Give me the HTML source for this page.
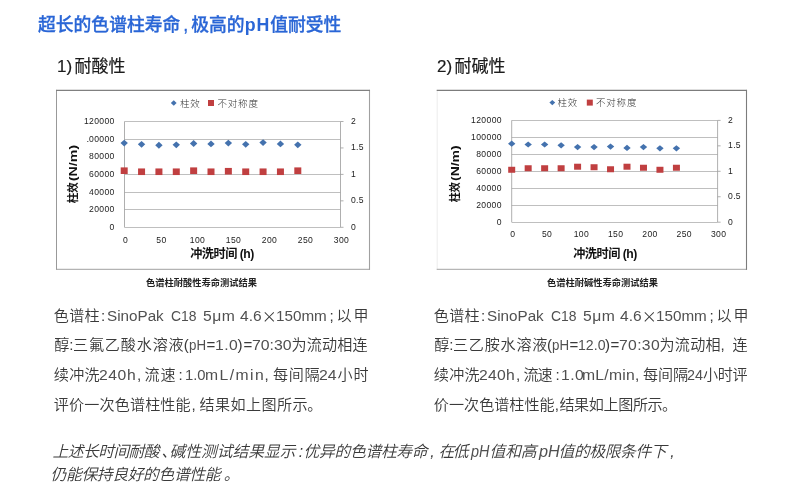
<!DOCTYPE html>
<html lang="zh-CN"><head><meta charset="utf-8"><title>色谱柱寿命</title>
<style>
html,body{margin:0;padding:0;background:#fff;}
body{width:800px;height:500px;position:relative;overflow:hidden;font-family:"Liberation Sans","Noto Sans CJK SC",sans-serif;color:#333;}
.abs{position:absolute;white-space:nowrap;}
.title{left:38px;top:13px;font-size:17.8px;line-height:24px;font-weight:500;color:#2a66d6;-webkit-text-stroke:0.3px #2a66d6;}
.title i{font-style:normal;display:inline-block;width:11px;text-align:center;}
.title b{font-weight:700;letter-spacing:0.9px;-webkit-text-stroke:0;}
.h2{font-size:17px;-webkit-text-stroke:0.2px #1c1c1c;line-height:24px;color:#1c1c1c;font-weight:400;}
.h2 span{display:inline-block;width:17.5px;}
.ln{position:absolute;left:0;width:800px;height:22px;line-height:22px;font-size:15.1px;font-weight:350;color:#3a3a3a;}
.ln span{position:absolute;top:0;white-space:nowrap;}
.ln .la{transform-origin:0 50%;color:#505050;}
.ln .cj{font-family:"Noto Sans CJK SC",sans-serif;top:-1px;}
.it{font-size:15.8px;font-style:italic;}
.cap{font-family:"Liberation Sans","Noto Sans CJK SC",sans-serif;font-weight:700;font-size:9.25px;color:#222;line-height:12px;}
svg{position:absolute;left:0;top:0;}
svg text{font-family:"Liberation Sans","Noto Sans CJK SC",sans-serif;fill:#222;}
.tk text{font-size:8.6px;letter-spacing:0.35px;}
.at{font-size:12.2px;font-weight:700;fill:#111;letter-spacing:-0.5px;}
.yt{font-size:11.6px;letter-spacing:0;}
.ls{letter-spacing:1.9px;}
.lg{font-size:9.5px;font-weight:300;letter-spacing:0.8px;fill:#333;}
</style></head><body>
<div class="abs title">超长的色谱柱寿命<i>,</i>极高的<b>pH</b>值耐受性</div>
<div class="abs h2" style="left:57px;top:55px;"><span>1)</span>耐酸性</div>
<div class="abs h2" style="left:437px;top:55px;"><span>2)</span>耐碱性</div>
<svg width="800" height="500" viewBox="0 0 800 500">
<line x1="56.5" y1="89.9" x2="56.5" y2="269.8" stroke="#999" stroke-width="1"/>
<line x1="56.0" y1="269.3" x2="370.0" y2="269.3" stroke="#a0a0a0" stroke-width="1"/>
<line x1="369.5" y1="89.9" x2="369.5" y2="269.8" stroke="#a0a0a0" stroke-width="1.1"/>
<line x1="56.0" y1="90.4" x2="370.0" y2="90.4" stroke="#808080" stroke-width="1.1"/>
<line x1="124.5" y1="227.50" x2="340.5" y2="227.50" stroke="#b4b4b4" stroke-width="0.85"/>
<line x1="124.5" y1="209.50" x2="340.5" y2="209.50" stroke="#b4b4b4" stroke-width="0.85"/>
<line x1="124.5" y1="192.50" x2="340.5" y2="192.50" stroke="#b4b4b4" stroke-width="0.85"/>
<line x1="124.5" y1="174.50" x2="340.5" y2="174.50" stroke="#b4b4b4" stroke-width="0.85"/>
<line x1="124.5" y1="139.50" x2="340.5" y2="139.50" stroke="#b4b4b4" stroke-width="0.85"/>
<line x1="124.5" y1="121.50" x2="340.5" y2="121.50" stroke="#b4b4b4" stroke-width="0.85"/>
<line x1="124.5" y1="121.5" x2="124.5" y2="227.3" stroke="#9a9a9a" stroke-width="0.8"/>
<line x1="340.5" y1="121.5" x2="340.5" y2="227.3" stroke="#9a9a9a" stroke-width="0.8"/>
<line x1="340.5" y1="227.30" x2="343.5" y2="227.30" stroke="#9a9a9a" stroke-width="0.8"/>
<line x1="340.5" y1="200.85" x2="343.5" y2="200.85" stroke="#9a9a9a" stroke-width="0.8"/>
<line x1="340.5" y1="174.40" x2="343.5" y2="174.40" stroke="#9a9a9a" stroke-width="0.8"/>
<line x1="340.5" y1="147.95" x2="343.5" y2="147.95" stroke="#9a9a9a" stroke-width="0.8"/>
<line x1="340.5" y1="121.50" x2="343.5" y2="121.50" stroke="#9a9a9a" stroke-width="0.8"/>
<g class="tk" text-anchor="end">
<text x="114.7" y="229.90">0</text>
<text x="114.7" y="212.27">20000</text>
<text x="114.7" y="194.63">40000</text>
<text x="114.7" y="177.00">60000</text>
<text x="114.7" y="159.37">80000</text>
<text x="114.7" y="141.73">100000</text>
<text x="114.7" y="124.10">120000</text>
</g>
<g class="tk" text-anchor="start">
<text x="350.9" y="229.70">0</text>
<text x="350.9" y="203.25">0.5</text>
<text x="350.9" y="176.80">1</text>
<text x="350.9" y="150.35">1.5</text>
<text x="350.9" y="123.90">2</text>
</g>
<g class="tk" text-anchor="middle">
<text x="125.50" y="243">0</text>
<text x="161.50" y="243">50</text>
<text x="197.50" y="243">100</text>
<text x="233.50" y="243">150</text>
<text x="269.50" y="243">200</text>
<text x="305.50" y="243">250</text>
<text x="341.50" y="243">300</text>
</g>
<text class="at" text-anchor="middle" x="222" y="258">冲洗时间 (h)</text>
<g transform="translate(77.3,203.3) rotate(-90)"><text class="at yt" x="0" y="0" textLength="21.0" lengthAdjust="spacingAndGlyphs">柱效</text><text class="at yt" x="22.1" y="0" textLength="36.4" lengthAdjust="spacingAndGlyphs">(N/m)</text></g>
<path d="M170.85 103.0 L173.75 100.3 L176.65 103.0 L173.75 105.7Z" fill="#4472ae"/>
<rect x="208" y="100.0" width="6" height="6" fill="#c03f40"/>
<text class="lg" x="180" y="106.5">柱效</text>
<text class="lg" x="217.5" y="106.5">不对称度</text>
<rect x="120.70" y="167.40" width="7" height="6.6" fill="#c03f40"/>
<rect x="138.06" y="168.45" width="7" height="6.6" fill="#c03f40"/>
<rect x="155.42" y="168.45" width="7" height="6.6" fill="#c03f40"/>
<rect x="172.78" y="168.45" width="7" height="6.6" fill="#c03f40"/>
<rect x="190.14" y="167.40" width="7" height="6.6" fill="#c03f40"/>
<rect x="207.50" y="168.45" width="7" height="6.6" fill="#c03f40"/>
<rect x="224.86" y="167.93" width="7" height="6.6" fill="#c03f40"/>
<rect x="242.22" y="168.45" width="7" height="6.6" fill="#c03f40"/>
<rect x="259.58" y="168.45" width="7" height="6.6" fill="#c03f40"/>
<rect x="276.94" y="168.45" width="7" height="6.6" fill="#c03f40"/>
<rect x="294.30" y="167.40" width="7" height="6.6" fill="#c03f40"/>
<path d="M120.50 143.04 L124.20 139.64 L127.90 143.04 L124.20 146.44Z" fill="#4472ae"/>
<path d="M137.86 144.36 L141.56 140.96 L145.26 144.36 L141.56 147.76Z" fill="#4472ae"/>
<path d="M155.22 145.25 L158.92 141.85 L162.62 145.25 L158.92 148.65Z" fill="#4472ae"/>
<path d="M172.58 144.81 L176.28 141.41 L179.98 144.81 L176.28 148.21Z" fill="#4472ae"/>
<path d="M189.94 143.48 L193.64 140.08 L197.34 143.48 L193.64 146.88Z" fill="#4472ae"/>
<path d="M207.30 143.92 L211.00 140.52 L214.70 143.92 L211.00 147.32Z" fill="#4472ae"/>
<path d="M224.66 143.04 L228.36 139.64 L232.06 143.04 L228.36 146.44Z" fill="#4472ae"/>
<path d="M242.02 144.36 L245.72 140.96 L249.42 144.36 L245.72 147.76Z" fill="#4472ae"/>
<path d="M259.38 142.60 L263.08 139.20 L266.78 142.60 L263.08 146.00Z" fill="#4472ae"/>
<path d="M276.74 143.92 L280.44 140.52 L284.14 143.92 L280.44 147.32Z" fill="#4472ae"/>
<path d="M294.10 144.81 L297.80 141.41 L301.50 144.81 L297.80 148.21Z" fill="#4472ae"/>
<rect x="82.5" y="133" width="4.6" height="11" fill="#fff"/>
<line x1="437.2" y1="89.9" x2="437.2" y2="269.8" stroke="#ececec" stroke-width="1"/>
<line x1="436.7" y1="269.3" x2="747.0" y2="269.3" stroke="#a4a4a4" stroke-width="1"/>
<line x1="746.5" y1="89.9" x2="746.5" y2="269.8" stroke="#7c7c7c" stroke-width="1.1"/>
<line x1="436.7" y1="90.4" x2="747.0" y2="90.4" stroke="#7c7c7c" stroke-width="1.1"/>
<line x1="511.7" y1="222.50" x2="717.6" y2="222.50" stroke="#b4b4b4" stroke-width="0.85"/>
<line x1="511.7" y1="205.50" x2="717.6" y2="205.50" stroke="#b4b4b4" stroke-width="0.85"/>
<line x1="511.7" y1="188.50" x2="717.6" y2="188.50" stroke="#b4b4b4" stroke-width="0.85"/>
<line x1="511.7" y1="171.50" x2="717.6" y2="171.50" stroke="#b4b4b4" stroke-width="0.85"/>
<line x1="511.7" y1="154.50" x2="717.6" y2="154.50" stroke="#b4b4b4" stroke-width="0.85"/>
<line x1="511.7" y1="137.50" x2="717.6" y2="137.50" stroke="#b4b4b4" stroke-width="0.85"/>
<line x1="511.7" y1="120.50" x2="717.6" y2="120.50" stroke="#b4b4b4" stroke-width="0.85"/>
<line x1="511.7" y1="120.4" x2="511.7" y2="222.2" stroke="#9a9a9a" stroke-width="0.8"/>
<line x1="717.6" y1="120.4" x2="717.6" y2="222.2" stroke="#9a9a9a" stroke-width="0.8"/>
<line x1="717.6" y1="222.20" x2="720.6" y2="222.20" stroke="#9a9a9a" stroke-width="0.8"/>
<line x1="717.6" y1="196.75" x2="720.6" y2="196.75" stroke="#9a9a9a" stroke-width="0.8"/>
<line x1="717.6" y1="171.30" x2="720.6" y2="171.30" stroke="#9a9a9a" stroke-width="0.8"/>
<line x1="717.6" y1="145.85" x2="720.6" y2="145.85" stroke="#9a9a9a" stroke-width="0.8"/>
<line x1="717.6" y1="120.40" x2="720.6" y2="120.40" stroke="#9a9a9a" stroke-width="0.8"/>
<g class="tk" text-anchor="end">
<text x="501.9" y="224.80">0</text>
<text x="501.9" y="207.83">20000</text>
<text x="501.9" y="190.87">40000</text>
<text x="501.9" y="173.90">60000</text>
<text x="501.9" y="156.93">80000</text>
<text x="501.9" y="139.97">100000</text>
<text x="501.9" y="123.00">120000</text>
</g>
<g class="tk" text-anchor="start">
<text x="728.0" y="224.60">0</text>
<text x="728.0" y="199.15">0.5</text>
<text x="728.0" y="173.70">1</text>
<text x="728.0" y="148.25">1.5</text>
<text x="728.0" y="122.80">2</text>
</g>
<g class="tk" text-anchor="middle">
<text x="512.70" y="237.3">0</text>
<text x="547.02" y="237.3">50</text>
<text x="581.33" y="237.3">100</text>
<text x="615.65" y="237.3">150</text>
<text x="649.97" y="237.3">200</text>
<text x="684.28" y="237.3">250</text>
<text x="718.60" y="237.3">300</text>
</g>
<text class="at" text-anchor="middle" x="605" y="258">冲洗时间 (h)</text>
<g transform="translate(459.4,202.3) rotate(-90)"><text class="at yt" x="0" y="0" textLength="20.2" lengthAdjust="spacingAndGlyphs">柱效</text><text class="at yt" x="21.3" y="0" textLength="35.6" lengthAdjust="spacingAndGlyphs">(N/m)</text></g>
<path d="M549.4 102.6 L552.3 99.89999999999999 L555.1999999999999 102.6 L552.3 105.3Z" fill="#4472ae"/>
<rect x="586.8" y="99.6" width="6" height="6" fill="#c03f40"/>
<text class="lg" x="557.5" y="106.1">柱效</text>
<text class="lg" x="596" y="106.1">不对称度</text>
<rect x="508.20" y="166.77" width="7" height="6.0" fill="#c03f40"/>
<rect x="524.67" y="165.25" width="7" height="6.0" fill="#c03f40"/>
<rect x="541.14" y="165.25" width="7" height="6.0" fill="#c03f40"/>
<rect x="557.62" y="165.25" width="7" height="6.0" fill="#c03f40"/>
<rect x="574.09" y="163.72" width="7" height="6.0" fill="#c03f40"/>
<rect x="590.56" y="164.23" width="7" height="6.0" fill="#c03f40"/>
<rect x="607.03" y="166.26" width="7" height="6.0" fill="#c03f40"/>
<rect x="623.50" y="163.72" width="7" height="6.0" fill="#c03f40"/>
<rect x="639.98" y="164.74" width="7" height="6.0" fill="#c03f40"/>
<rect x="656.45" y="166.77" width="7" height="6.0" fill="#c03f40"/>
<rect x="672.92" y="164.74" width="7" height="6.0" fill="#c03f40"/>
<path d="M508.00 143.65 L511.70 140.55 L515.40 143.65 L511.70 146.75Z" fill="#4472ae"/>
<path d="M524.47 144.50 L528.17 141.40 L531.87 144.50 L528.17 147.60Z" fill="#4472ae"/>
<path d="M540.94 144.50 L544.64 141.40 L548.34 144.50 L544.64 147.60Z" fill="#4472ae"/>
<path d="M557.42 145.35 L561.12 142.25 L564.82 145.35 L561.12 148.45Z" fill="#4472ae"/>
<path d="M573.89 147.05 L577.59 143.95 L581.29 147.05 L577.59 150.15Z" fill="#4472ae"/>
<path d="M590.36 147.05 L594.06 143.95 L597.76 147.05 L594.06 150.15Z" fill="#4472ae"/>
<path d="M606.83 146.62 L610.53 143.52 L614.23 146.62 L610.53 149.72Z" fill="#4472ae"/>
<path d="M623.30 147.90 L627.00 144.80 L630.70 147.90 L627.00 151.00Z" fill="#4472ae"/>
<path d="M639.78 147.05 L643.48 143.95 L647.18 147.05 L643.48 150.15Z" fill="#4472ae"/>
<path d="M656.25 148.32 L659.95 145.22 L663.65 148.32 L659.95 151.42Z" fill="#4472ae"/>
<path d="M672.72 148.32 L676.42 145.22 L680.12 148.32 L676.42 151.42Z" fill="#4472ae"/>
</svg>
<div class="abs cap" style="left:146px;top:276.5px;">色谱柱耐酸性寿命测试结果</div>
<div class="abs cap" style="left:547px;top:276.5px;">色谱柱耐碱性寿命测试结果</div>
<div class="ln" style="top:304.80px">
<span style="left:53.80px;letter-spacing:0.31px">色谱柱</span><span style="left:101.00px">:</span><span class="la" style="left:107.40px;transform:scaleX(1.009)">SinoPak</span><span class="la" style="left:171.40px;transform:scaleX(0.923)">C18</span><span class="la" style="left:203.40px;letter-spacing:0.45px;transform:scaleX(1.040)">5μm</span><span class="la" style="left:240.40px;transform:scaleX(1.030)">4.6</span><span class="cj" style="left:261.80px">×</span><span class="la" style="left:276.39px;transform:scaleX(1.009)">150mm</span><span style="left:329.50px">;</span><span style="left:336.40px;letter-spacing:2.11px">以甲</span></div>
<div class="ln" style="top:334.40px">
<span style="left:54.20px">醇</span><span style="left:69.15px">:</span><span style="left:73.00px;letter-spacing:0.84px">三氟乙酸水溶液</span><span style="left:183.70px">(</span><span class="la" style="left:189.40px;transform:scaleX(0.881)">pH</span><span style="left:206.50px">=</span><span class="la" style="left:215.36px;letter-spacing:0.40px;transform:scaleX(1.040)">1.0</span><span style="left:237.50px">)</span><span style="left:243.50px">=</span><span class="la" style="left:252.40px;transform:scaleX(1.049)">70:30</span><span style="left:291.40px;letter-spacing:0.21px">为流动相连</span></div>
<div class="ln" style="top:364.30px">
<span style="left:53.80px;letter-spacing:0.31px">续冲洗</span><span class="la" style="left:99.40px;letter-spacing:0.54px;transform:scaleX(1.040)">240h</span><span style="left:137.00px">,</span><span style="left:144.40px;letter-spacing:1.11px">流速</span><span style="left:178.50px">:</span><span class="la" style="left:185.42px;transform:scaleX(0.980)">1.0</span><span class="la" style="left:205.36px;letter-spacing:1.38px;transform:scaleX(1.040)">mL/min</span><span style="left:264.50px">,</span><span style="left:273.00px;letter-spacing:0.71px">每间隔</span><span class="la" style="left:319.40px;transform:scaleX(1.049)">24</span><span style="left:337.40px;letter-spacing:1.11px">小时</span></div>
<div class="ln" style="top:394.10px">
<span style="left:53.80px;letter-spacing:0.13px">评价一次色谱柱性能</span><span style="left:191.50px">,</span><span style="left:199.40px;letter-spacing:0.44px">结果如上图所示</span><span style="left:307.25px">。</span></div>
<div class="ln" style="top:304.80px">
<span style="left:433.80px;letter-spacing:0.31px">色谱柱</span><span style="left:481.00px">:</span><span class="la" style="left:487.40px;transform:scaleX(1.009)">SinoPak</span><span class="la" style="left:551.40px;transform:scaleX(0.923)">C18</span><span class="la" style="left:583.40px;letter-spacing:0.45px;transform:scaleX(1.040)">5μm</span><span class="la" style="left:620.40px;transform:scaleX(1.030)">4.6</span><span class="cj" style="left:641.80px">×</span><span class="la" style="left:656.39px;transform:scaleX(1.009)">150mm</span><span style="left:709.50px">;</span><span style="left:716.40px;letter-spacing:2.11px">以甲</span></div>
<div class="ln" style="top:334.40px">
<span style="left:434.20px">醇</span><span style="left:449.15px">:</span><span style="left:453.00px;letter-spacing:0.75px">三乙胺水溶液</span><span style="left:547.00px">(</span><span class="la" style="left:552.40px;transform:scaleX(0.881)">pH</span><span style="left:569.50px">=</span><span class="la" style="left:578.46px;transform:scaleX(0.936)">12.0</span><span style="left:605.00px">)</span><span style="left:610.50px">=</span><span class="la" style="left:619.40px;letter-spacing:0.32px;transform:scaleX(1.040)">70:30</span><span style="left:659.40px;letter-spacing:0.31px">为流动相</span><span style="left:720.50px">,</span><span style="left:732.50px">连</span></div>
<div class="ln" style="top:364.30px">
<span style="left:433.80px;letter-spacing:0.31px">续冲洗</span><span class="la" style="left:479.40px;letter-spacing:0.22px;transform:scaleX(1.040)">240h</span><span style="left:515.90px">,</span><span style="left:523.40px;letter-spacing:-0.89px">流速</span><span style="left:555.50px">:</span><span class="la" style="left:561.36px;letter-spacing:0.40px;transform:scaleX(1.040)">1.0</span><span class="la" style="left:582.36px;letter-spacing:0.23px;transform:scaleX(1.040)">mL/min</span><span style="left:635.10px">,</span><span style="left:643.00px;letter-spacing:-0.09px">每间隔</span><span class="la" style="left:687.40px;transform:scaleX(0.952)">24</span><span style="left:703.00px;letter-spacing:-0.29px">小时评</span></div>
<div class="ln" style="top:394.10px">
<span style="left:433.80px;letter-spacing:0.02px">价一次色谱柱性能</span><span style="left:554.80px">,</span><span style="left:559.40px;letter-spacing:-0.39px">结果如上图所示</span><span style="left:662.00px">。</span></div>
<div class="ln it" style="top:441.20px">
<span style="left:52.60px;letter-spacing:-0.60px">上述长时间耐酸</span><span style="left:161.20px">、</span><span style="left:169.60px;letter-spacing:-0.05px">碱性测试结果显示</span><span style="left:298.70px">:</span><span style="left:303.60px;letter-spacing:-0.34px">优异的色谱柱寿命</span><span style="left:430.20px">,</span><span style="left:438.60px;letter-spacing:-1.60px">在低</span><span class="la" style="left:471.31px;transform:scaleX(0.913)">pH</span><span style="left:489.60px;letter-spacing:-0.20px">值和高</span><span class="la" style="left:539.43px;transform:scaleX(1.028)">pH</span><span style="left:558.60px;letter-spacing:-0.43px">值的极限条件下</span><span style="left:670.20px">,</span></div>
<div class="ln it" style="top:464.20px">
<span style="left:50.60px;letter-spacing:-0.38px">仍能保持良好的色谱性能</span><span style="left:223.70px">。</span></div>
</body></html>
